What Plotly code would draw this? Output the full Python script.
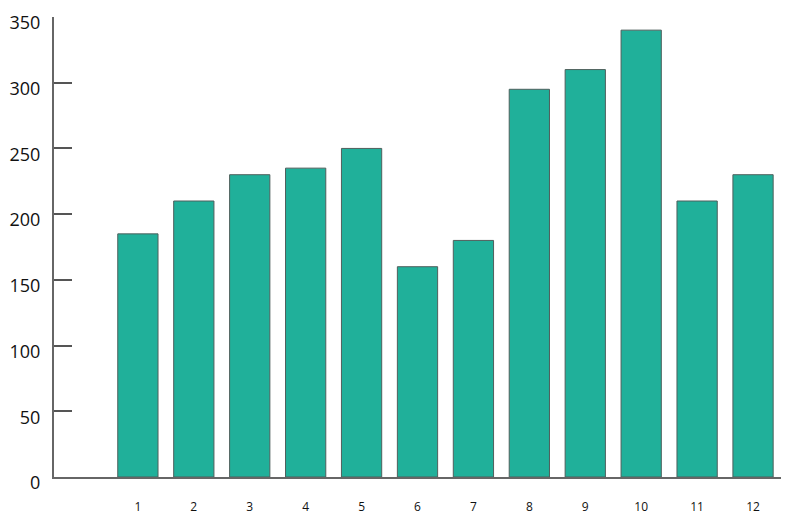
import plotly.graph_objects as go

# dados
categorias = [1, 2, 3, 4, 5, 6, 7, 8, 9, 10, 11, 12]
valores = [185, 210, 230, 235, 250, 160, 180, 295, 310, 340, 210, 230]
y_ticks = [0, 50, 100, 150, 200, 250, 300, 350]

fig = go.Figure()
fig.add_trace(go.Bar(
    x=categorias, y=valores,
    marker=dict(color="#20b09a", line=dict(color="#4f5f5c", width=1)),
))

# a página tem 8px de margem no body, por isso a figura é um pouco menor
fig.update_layout(
    width=792, height=515,
    margin=dict(l=46, r=19, t=9, b=46),
    plot_bgcolor="white", paper_bgcolor="white",
    bargap=0.28,
    showlegend=False,
    font=dict(family="Open Sans", color="#111"),
)
fig.update_xaxes(
    range=[-0.5, 12.5], tickvals=categorias,
    showgrid=False, zeroline=False, automargin=False,
    showline=True, linecolor="#666", linewidth=2,
    ticks="", ticklabelstandoff=18,
    tickfont=dict(size=12),
)
fig.update_yaxes(
    range=[0, 350], tickvals=y_ticks,
    showgrid=False, zeroline=False, automargin=False,
    showline=True, linecolor="#666", linewidth=2,
    ticks="inside", ticklen=18, tickcolor="#555", tickwidth=1.5,
    ticklabelstandoff=8, ticklabelshift=6,
    tickfont=dict(size=18),
)

fig.write_html("out.html")
